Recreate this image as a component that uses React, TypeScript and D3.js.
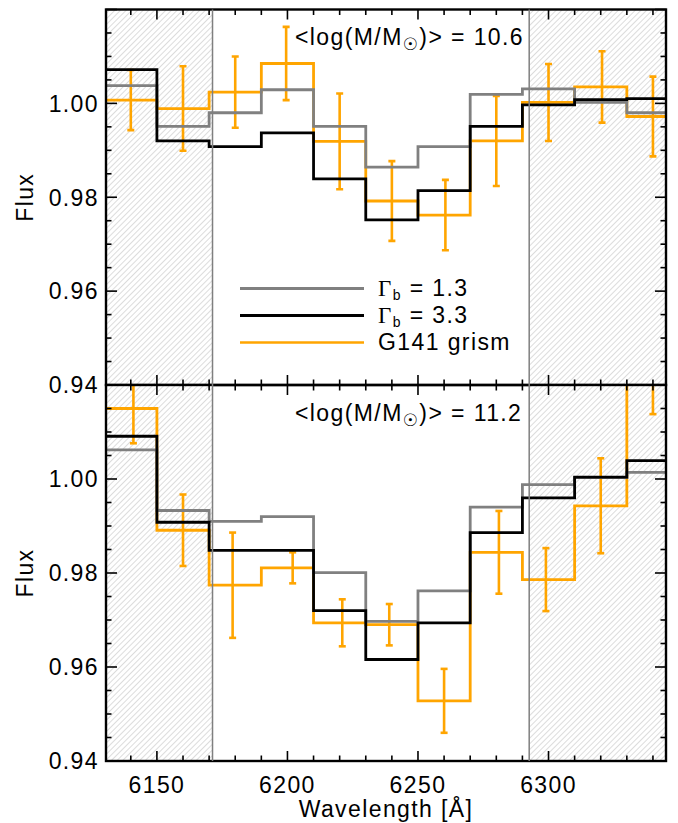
import * as d3 from "d3";

// bin left edges (Å), each bin is 20 Å wide
const binStart = [6130, 6150, 6170, 6190, 6210, 6230, 6250, 6270, 6290, 6310, 6330];
const binWidth = 20;

// upper panel, <log M> = 10.6
const grey1 = [1.0038, 0.9951, 0.998, 1.0029, 0.9951, 0.9864, 0.9908, 1.0019, 1.0031, 1.0002, 0.998];
const black1 = [1.0072, 0.992, 0.9908, 0.9937, 0.9839, 0.9752, 0.9814, 0.9951, 0.9997, 1.0008, 1.001];
const grism1 = [1.0007, 0.9989, 1.0024, 1.0085, 0.9919, 0.9792, 0.9762, 0.992, 1.0002, 1.0035, 0.9972];
const err1 = [0.0064, 0.009, 0.0076, 0.0078, 0.0102, 0.0085, 0.0075, 0.0096, 0.0082, 0.0076, 0.0085];
const errX1 = [6140, 6160, 6180, 6199.5, 6220, 6240, 6260.5, 6280, 6300, 6320.5, 6340];

// lower panel, <log M> = 11.2
const grey2 = [1.0062, 0.9933, 0.991, 0.992, 0.9801, 0.9697, 0.9762, 0.994, 0.9988, 1.0003, 1.0014];
const black2 = [1.0091, 0.9908, 0.9848, 0.9848, 0.972, 0.9616, 0.9694, 0.9886, 0.996, 1.0004, 1.0039];
const grism2 = [1.015, 0.9891, 0.9774, 0.9811, 0.9694, 0.969, 0.9528, 0.9844, 0.9786, 0.9943, 1.0225];
const err2 = [0.0074, 0.0076, 0.0112, 0.0033, 0.005, 0.0044, 0.0068, 0.0088, 0.0067, 0.0101, 0.0087];
const errX2 = [6141, 6160, 6179, 6202, 6221, 6239, 6260, 6281, 6299, 6320, 6340];

// masked (hatched) ranges are outside these wavelengths
const maskEdges = [6171.3, 6292.6];

const xTicks = [6150, 6200, 6250, 6300];
const yTicks = [0.94, 0.96, 0.98, 1.0];
const massLabels = ["10.6", "11.2"];

const legendItems = [
  { sym: "Γ", sub: "b", text: " = 1.3", color: "#808080" },
  { sym: "Γ", sub: "b", text: " = 3.3", color: "#000000" },
  { sym: "", sub: "", text: "G141 grism", color: "#FFA500" },
];

const W = 678;
const H = 823;
const LEFT = 106;
const RIGHT = 666;
const FONT = "'Liberation Sans', Arial, Helvetica, sans-serif";
const FS = 23;
const LS = 1.4;
const ORANGE = "#FFA500";
const GREY = "#808080";

const x = d3.scaleLinear().domain([6130.5, 6345]).range([LEFT, RIGHT]);

const panels = [
  { top: 9.5, bottom: 385, grey: grey1, black: black1, grism: grism1, err: err1, errX: errX1, mass: massLabels[0] },
  { top: 385, bottom: 761, grey: grey2, black: black2, grism: grism2, err: err2, errX: errX2, mass: massLabels[1] },
];

function stepPath(vals: number[], y: d3.ScaleLinear<number, number>) {
  const pts: [number, number][] = binStart.map((b, i) => [b, vals[i]]);
  pts.push([binStart[binStart.length - 1] + binWidth, vals[vals.length - 1]]);
  const line = d3
    .line<[number, number]>()
    .x((d) => x(d[0]))
    .y((d) => y(d[1]))
    .curve(d3.curveStepAfter);
  return line(pts) ?? "";
}

function Panel({ p, idx, last }: { p: (typeof panels)[number]; idx: number; last: boolean }) {
  const y = d3.scaleLinear().domain([0.94, 1.02]).range([p.bottom, p.top]);
  const clipId = `clip${idx}`;
  const xMinor = d3.range(6140, 6345, 10).filter((v) => !xTicks.includes(v));
  const yMinor = d3.range(0.945, 1.02, 0.005).filter((v) => Math.abs(Math.round(v * 50) - v * 50) > 1e-6);
  const yMajor = [0.94, 0.96, 0.98, 1.0, 1.02];

  return (
    <g>
      <defs>
        <clipPath id={clipId}>
          <rect x={LEFT} y={p.top} width={RIGHT - LEFT} height={p.bottom - p.top} />
        </clipPath>
      </defs>
      {/* hatched masked regions */}
      <rect x={LEFT} y={p.top} width={x(maskEdges[0]) - LEFT} height={p.bottom - p.top} fill="url(#hatch)" />
      <rect x={x(maskEdges[1])} y={p.top} width={RIGHT - x(maskEdges[1])} height={p.bottom - p.top} fill="url(#hatch)" />

      <g clipPath={`url(#${clipId})`} fill="none" strokeLinejoin="miter">
        <path d={stepPath(p.grism, y)} stroke={ORANGE} strokeWidth={2.8} />
        {p.grism.map((v, i) => {
          const cx = x(p.errX[i]);
          const y0 = y(v - p.err[i]);
          const y1 = y(v + p.err[i]);
          return (
            <g key={i} stroke={ORANGE} strokeWidth={2.6}>
              <line x1={cx} x2={cx} y1={y0} y2={y1} />
              <line x1={cx - 3.5} x2={cx + 3.5} y1={y0} y2={y0} />
              <line x1={cx - 3.5} x2={cx + 3.5} y1={y1} y2={y1} />
            </g>
          );
        })}
        <path d={stepPath(p.grey, y)} stroke={GREY} strokeWidth={2.8} />
        <path d={stepPath(p.black, y)} stroke="#000" strokeWidth={2.8} />
      </g>

      {/* ticks */}
      <g stroke="#000" strokeWidth={1.6}>
        {xTicks.map((t) => (
          <g key={`xt${t}`}>
            <line x1={x(t)} x2={x(t)} y1={p.bottom} y2={p.bottom - 10} />
            <line x1={x(t)} x2={x(t)} y1={p.top} y2={p.top + 10} />
          </g>
        ))}
        {xMinor.map((t) => (
          <g key={`xm${t}`}>
            <line x1={x(t)} x2={x(t)} y1={p.bottom} y2={p.bottom - 5.5} />
            <line x1={x(t)} x2={x(t)} y1={p.top} y2={p.top + 5.5} />
          </g>
        ))}
        {yMajor.map((t) => (
          <g key={`yt${t}`}>
            <line x1={LEFT} x2={LEFT + 11} y1={y(t)} y2={y(t)} />
            <line x1={RIGHT} x2={RIGHT - 11} y1={y(t)} y2={y(t)} />
          </g>
        ))}
        {yMinor.map((t) => (
          <g key={`ym${t}`}>
            <line x1={LEFT} x2={LEFT + 5.5} y1={y(t)} y2={y(t)} />
            <line x1={RIGHT} x2={RIGHT - 5.5} y1={y(t)} y2={y(t)} />
          </g>
        ))}
      </g>

      <rect x={LEFT} y={p.top} width={RIGHT - LEFT} height={p.bottom - p.top} fill="none" stroke="#000" strokeWidth={2.4} />

      {/* y tick labels */}
      {yTicks.map((t) => (
        <text key={`yl${t}`} x={LEFT - 7} y={y(t)} dy="0.36em" textAnchor="end" fontSize={FS} letterSpacing={LS} fontFamily={FONT}>
          {d3.format(".2f")(t)}
        </text>
      ))}
      <text
        transform={`translate(33,${y(0.98)}) rotate(-90)`}
        textAnchor="middle"
        fontSize={FS}
        letterSpacing={LS}
        fontFamily={FONT}
      >
        Flux
      </text>

      {/* mass annotation */}
      <text x={295} y={p.top + 35.5} fontSize={FS} letterSpacing={LS} fontFamily={FONT}>
        {"<log(M/M"}
        <tspan fontSize={17} dy={5} fontFamily="'DejaVu Sans'">☉</tspan>
        <tspan dy={-5}>{`)> = ${p.mass}`}</tspan>
      </text>

      {last &&
        xTicks.map((t) => (
          <text key={`xl${t}`} x={x(t)} y={p.bottom + 32} textAnchor="middle" fontSize={FS} letterSpacing={LS} fontFamily={FONT}>
            {t}
          </text>
        ))}
    </g>
  );
}

export default function App() {
  return (
    <svg
      width={W}
      height={H}
      style={{ position: "absolute", left: 0, top: 0, background: "#fff" }}
      xmlns="http://www.w3.org/2000/svg"
    >
      <defs>
        <pattern id="hatch" patternUnits="userSpaceOnUse" width={4} height={4} patternTransform="rotate(45)">
          <rect width={4} height={4} fill="#ffffff" />
          <line x1={0} y1={0} x2={0} y2={4} stroke="#cdcdcd" strokeWidth={1.4} />
        </pattern>
      </defs>

      {panels.map((p, i) => (
        <Panel key={i} p={p} idx={i} last={i === panels.length - 1} />
      ))}

      {/* mask boundaries */}
      {maskEdges.map((m) => (
        <line key={m} x1={x(m)} x2={x(m)} y1={panels[0].top} y2={panels[1].bottom} stroke="#7f7f7f" strokeWidth={1.5} />
      ))}

      {/* legend */}
      {legendItems.map((it, i) => (
        <g key={i}>
          <line x1={240} x2={364} y1={288.5 + i * 27} y2={288.5 + i * 27} stroke={it.color} strokeWidth={it.color === ORANGE ? 2.4 : 3} />
          <text x={378} y={295.5 + i * 27} fontSize={FS} letterSpacing={LS} fontFamily={FONT}>
            {it.sym && <tspan fontFamily="'Liberation Serif', serif">{it.sym}</tspan>}
            {it.sub && (
              <tspan fontSize={14} dy={4}>
                {it.sub}
              </tspan>
            )}
            <tspan dy={it.sub ? -4 : 0}>{it.text}</tspan>
          </text>
        </g>
      ))}

      <text x={(LEFT + RIGHT) / 2} y={817} textAnchor="middle" fontSize={FS} letterSpacing={LS} fontFamily={FONT}>
        Wavelength [Å]
      </text>
    </svg>
  );
}
